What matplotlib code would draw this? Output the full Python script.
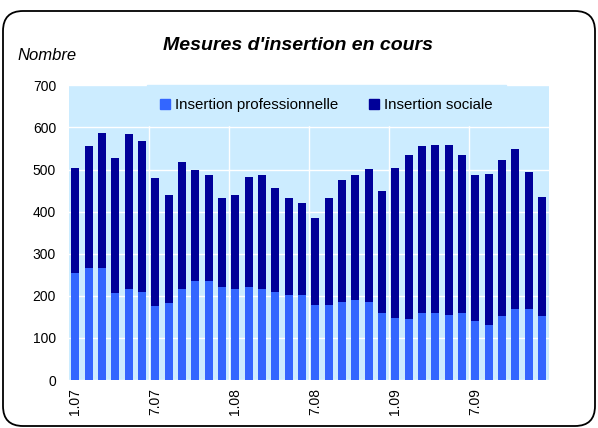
import matplotlib.pyplot as plt
from matplotlib.patches import FancyBboxPatch, Patch
import numpy as np

# monthly values, 1.07 .. 12.09
months = ['%d.%02d' % (m, y) for y in (7, 8, 9) for m in range(1, 13)]
pro = [255, 267, 267, 206, 217, 208, 175, 182, 217, 236, 236, 220,
       217, 220, 217, 208, 201, 201, 179, 179, 186, 189, 186, 160,
       148, 146, 158, 160, 155, 158, 141, 131, 151, 168, 168, 151]
total = [503, 555, 586, 527, 584, 567, 479, 439, 517, 498, 486, 432,
         439, 481, 486, 455, 432, 420, 384, 432, 474, 486, 501, 448,
         503, 534, 555, 558, 558, 534, 486, 489, 522, 548, 494, 434]
soc = [t - p for t, p in zip(total, pro)]

col_pro = '#3366FF'
col_soc = '#000099'
bg = '#CCECFF'

plt.rcParams['font.family'] = ['Liberation Sans', 'DejaVu Sans']

W, H = 598, 428
fig = plt.figure(figsize=(W / 100, H / 100), dpi=100)

# rounded frame around the whole chart
frame = FancyBboxPatch((0.03, 0.02), 5.92, 4.15,
                       boxstyle='round,pad=0,rounding_size=0.2',
                       transform=fig.dpi_scale_trans,
                       facecolor='none', edgecolor='black', linewidth=1.3)
fig.patches.append(frame)

ax = fig.add_axes([68.6 / W, (H - 380) / H, 480 / W, (380 - 85.3) / H])
ax.set_facecolor(bg)
x = np.arange(len(months))
ax.bar(x, pro, width=0.6, color=col_pro, zorder=2)
ax.bar(x, soc, bottom=pro, width=0.6, color=col_soc, zorder=2)

ax.set_xlim(-0.5, len(months) - 0.5)
ax.set_ylim(0, 700)
ax.set_yticks(range(0, 701, 100))
ax.set_xticks(x[::6])
ax.set_xticklabels(months[::6], rotation=90)
ax.set_xticks(x[6::6] - 0.5, minor=True)
ax.grid(axis='y', which='major', color='white', linewidth=1, zorder=1)
ax.grid(axis='x', which='minor', color='white', linewidth=1, zorder=1)
ax.grid(axis='x', which='major', visible=False)
ax.tick_params(axis='both', which='both', length=0, labelsize=10)
ax.tick_params(axis='x', pad=6)
ax.tick_params(axis='y', pad=9)
for s in ax.spines.values():
    s.set_visible(False)

handles = [Patch(color=col_pro, label='Insertion professionnelle'),
           Patch(color=col_soc, label='Insertion sociale')]
leg = ax.legend(handles=handles, loc='upper left', bbox_to_anchor=(0.163, 1.0),
                ncol=2, frameon=True, fontsize=10.8, handlelength=0.7, handleheight=0.7,
                handletextpad=0.35, columnspacing=2.0, borderpad=0.85, borderaxespad=0)
leg.get_frame().set_facecolor(bg)
leg.get_frame().set_edgecolor(bg)
leg.get_frame().set_alpha(1)
leg.get_frame().set_boxstyle('square', pad=0)
leg.set_zorder(5)

fig.text(298 / W, 1 - 46 / H, "Mesures d'insertion en cours", ha='center', va='center',
         fontsize=14, fontweight='bold', fontstyle='italic')
fig.text(17 / W, 1 - 55 / H, 'Nombre', ha='left', va='center',
         fontsize=12, fontstyle='italic')

fig.savefig('out.png', dpi=100)
